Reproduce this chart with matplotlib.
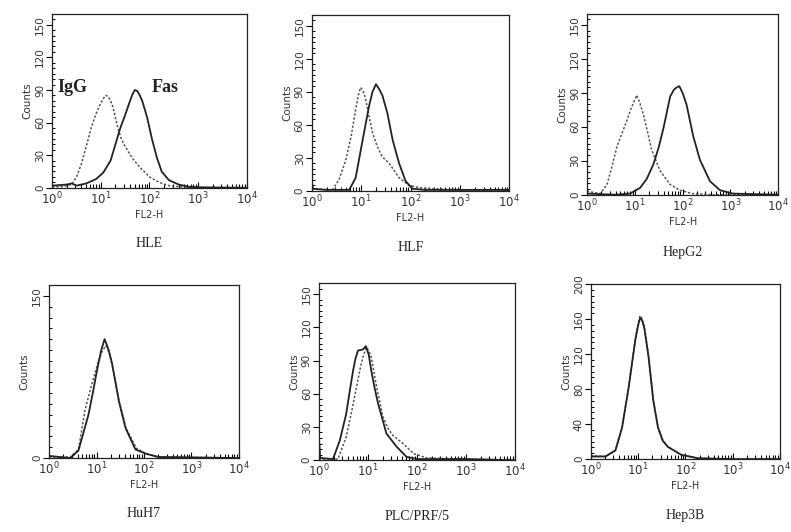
import matplotlib
matplotlib.use("Agg")
import matplotlib.pyplot as plt
from matplotlib.ticker import MultipleLocator, LogLocator, NullFormatter

# ── Data: log10(FL2-H) positions and counts ──

# HLE
hle_igg_x = [0.0, 0.2, 0.4, 0.5, 0.6, 0.7, 0.8, 0.9, 1.0, 1.05, 1.1, 1.15, 1.2, 1.25, 1.3, 1.35, 1.42, 1.5, 1.65, 1.8, 2.0, 2.2, 2.4, 2.6, 3.0, 4.0]
hle_igg_y = [1, 1, 3, 10, 22, 38, 55, 68, 78, 82, 85, 84, 80, 74, 64, 55, 45, 38, 27, 19, 10, 5, 2, 1, 0, 0]
hle_fas_x = [0.0, 0.3, 0.4, 0.5, 0.7, 0.9, 1.05, 1.2, 1.3, 1.4, 1.5, 1.6, 1.65, 1.7, 1.75, 1.8, 1.85, 1.95, 2.05, 2.15, 2.25, 2.4, 2.6, 2.8, 3.0, 4.0]
hle_fas_y = [2, 3, 4, 2, 4, 8, 14, 25, 40, 55, 67, 80, 86, 90, 89, 85, 80, 65, 45, 28, 15, 7, 3, 1, 0.5, 0]

# HLF
hlf_igg_x = [0.0, 0.42, 0.55, 0.69, 0.8, 0.89, 0.95, 0.99, 1.04, 1.09, 1.16, 1.23, 1.33, 1.43, 1.57, 1.77, 1.97, 2.18, 2.5, 3.0, 4.0]
hlf_igg_y = [2, 1, 10, 28, 50, 74, 88, 94, 91, 84, 68, 53, 40, 31, 25, 12, 5, 3, 2, 1, 0]
hlf_fas_x = [0.0, 0.03, 0.3, 0.76, 0.89, 1.03, 1.16, 1.23, 1.3, 1.36, 1.43, 1.53, 1.64, 1.77, 1.9, 2.04, 2.3, 3.0, 4.0]
hlf_fas_y = [9, 2, 1, 1, 12, 46, 77, 90, 97, 93, 87, 71, 46, 25, 9, 2, 1, 1, 1]

# HepG2
hepg2_igg_x = [0.0, 0.28, 0.42, 0.53, 0.63, 0.73, 0.83, 0.92, 1.0, 1.04, 1.1, 1.18, 1.27, 1.35, 1.53, 1.74, 1.94, 2.2, 2.6, 4.0]
hepg2_igg_y = [3, 1, 9, 26, 43, 54, 65, 76, 84, 88, 82, 71, 55, 40, 21, 9, 4, 1, 0, 0]
hepg2_fas_x = [0.0, 0.6, 0.9, 1.11, 1.25, 1.39, 1.5, 1.6, 1.68, 1.74, 1.82, 1.88, 1.93, 2.0, 2.08, 2.15, 2.22, 2.36, 2.57, 2.78, 3.05, 4.0]
hepg2_fas_y = [1, 0, 1, 6, 14, 27, 42, 59, 75, 87, 93, 95, 96, 90, 80, 66, 52, 31, 12, 4, 1, 0]

# HuH7
huh7_igg_x = [0.0, 0.45, 0.62, 0.76, 0.9, 1.03, 1.12, 1.2, 1.27, 1.34, 1.48, 1.62, 1.84, 2.05, 2.3, 4.0]
huh7_igg_y = [1, 1, 8, 45, 68, 88, 99, 104, 97, 84, 52, 28, 9, 4, 1, 0]
huh7_fas_x = [0.0, 0.45, 0.62, 0.83, 0.93, 1.01, 1.1, 1.17, 1.25, 1.33, 1.47, 1.61, 1.82, 2.04, 2.3, 4.0]
huh7_fas_y = [2, 0, 7, 40, 62, 81, 100, 110, 101, 87, 53, 28, 8, 4, 1, 0]

# PLC/PRF/5
plc_igg_x = [0.0, 0.39, 0.56, 0.67, 0.77, 0.85, 0.9, 0.97, 1.02, 1.07, 1.18, 1.31, 1.42, 1.52, 1.72, 1.93, 2.2, 3.0, 4.0]
plc_igg_y = [1, 1, 21, 44, 66, 84, 93, 102, 99, 93, 66, 39, 28, 22, 15, 6, 2, 1, 0]
plc_fas_x = [0.0, 0.03, 0.29, 0.43, 0.56, 0.63, 0.7, 0.75, 0.8, 0.9, 0.96, 1.02, 1.07, 1.14, 1.21, 1.38, 1.59, 1.79, 2.0, 3.0, 4.0]
plc_fas_y = [22, 2, 1, 18, 42, 62, 81, 92, 99, 100, 103, 95, 81, 65, 51, 24, 12, 3, 1, 1, 0]

# Hep3B
hep3b_igg_x = [0.0, 0.31, 0.52, 0.66, 0.8, 0.88, 0.94, 1.0, 1.04, 1.08, 1.13, 1.22, 1.32, 1.42, 1.52, 1.63, 1.91, 2.26, 3.0, 4.0]
hep3b_igg_y = [4, 3, 10, 37, 83, 114, 137, 155, 164, 161, 152, 118, 68, 37, 22, 14, 5, 1, 0, 0]
hep3b_fas_x = [0.0, 0.31, 0.52, 0.66, 0.8, 0.88, 0.94, 1.0, 1.04, 1.08, 1.13, 1.22, 1.32, 1.42, 1.52, 1.63, 1.91, 2.26, 3.0, 4.0]
hep3b_fas_y = [3, 3, 10, 36, 82, 113, 136, 153, 161, 159, 150, 117, 67, 36, 21, 14, 5, 1, 0, 0]

cell_lines = ["HLE", "HLF", "HepG2", "HuH7", "PLC/PRF/5", "Hep3B"]
igg_x = [hle_igg_x, hlf_igg_x, hepg2_igg_x, huh7_igg_x, plc_igg_x, hep3b_igg_x]
igg_y = [hle_igg_y, hlf_igg_y, hepg2_igg_y, huh7_igg_y, plc_igg_y, hep3b_igg_y]
fas_x = [hle_fas_x, hlf_fas_x, hepg2_fas_x, huh7_fas_x, plc_fas_x, hep3b_fas_x]
fas_y = [hle_fas_y, hlf_fas_y, hepg2_fas_y, huh7_fas_y, plc_fas_y, hep3b_fas_y]

y_ticks = [[0, 30, 60, 90, 120, 150], [0, 30, 60, 90, 120, 150], [0, 30, 60, 90, 120, 150],
           [0, 150], [0, 30, 60, 90, 120, 150], [0, 40, 80, 120, 160, 200]]
y_max = [160, 160, 160, 160, 160, 200]
x_ticks = [1, 10, 100, 1000, 10000]
x_tick_labels = [r"$10^0$", r"$10^1$", r"$10^2$", r"$10^3$", r"$10^4$"]

# axes rectangles (figure fractions) – layout only
rects = [
    [0.066, 0.647, 0.246, 0.327],
    [0.394, 0.641, 0.250, 0.331],
    [0.742, 0.634, 0.242, 0.340],
    [0.062, 0.139, 0.240, 0.325],
    [0.403, 0.135, 0.248, 0.333],
    [0.747, 0.137, 0.239, 0.329],
]

fig = plt.figure(figsize=(7.91, 5.32), dpi=100)
fig.patch.set_facecolor("white")

for i, name in enumerate(cell_lines):
    ax = fig.add_axes(rects[i])
    ix = [10 ** v for v in igg_x[i]]
    fx = [10 ** v for v in fas_x[i]]
    ax.plot(ix, igg_y[i], color="#555555", lw=1.1, ls=(0, (1.5, 1.2)))
    ax.plot(fx, fas_y[i], color="#222222", lw=1.3)

    ax.set_xscale("log")
    ax.set_xlim(1, 10000)
    ax.set_ylim(0, y_max[i])
    ax.set_xticks(x_ticks)
    ax.set_xticklabels(x_tick_labels, fontsize=8.5, color="#333333")
    ax.xaxis.set_minor_locator(LogLocator(base=10, subs=range(2, 10), numticks=20))
    ax.xaxis.set_minor_formatter(NullFormatter())
    ax.set_yticks(y_ticks[i])
    ax.set_yticklabels([str(t) for t in y_ticks[i]], fontsize=7.5, rotation=90,
                       va="center", color="#333333")
    step = y_ticks[i][1] - y_ticks[i][0]
    ax.yaxis.set_minor_locator(MultipleLocator(step / 6 if len(y_ticks[i]) > 2 else 10))
    ax.tick_params(axis="x", which="both", direction="in", length=3, width=0.8, pad=2)
    ax.tick_params(axis="x", which="major", length=4)
    ax.tick_params(axis="y", which="major", direction="out", length=4, width=0.8, pad=1)
    ax.tick_params(axis="y", which="minor", direction="in", length=2, width=0.7)
    for s in ax.spines.values():
        s.set_linewidth(0.9)
        s.set_color("#222222")

    ax.set_ylabel("Counts", fontsize=7.5, color="#333333", labelpad=2)
    ax.set_xlabel("FL2-H", fontsize=7, color="#333333", labelpad=2)
    ax.text(0.5, -0.32, name, transform=ax.transAxes, ha="center", va="center",
            fontsize=10, family="Liberation Serif", color="#222222")

    if i == 0:
        ax.text(10 ** 0.1, 92, "IgG", fontsize=13, fontweight="bold",
                family="Liberation Serif", va="center", color="#222222")
        ax.text(10 ** 2.05, 92, "Fas", fontsize=13, fontweight="bold",
                family="Liberation Serif", va="center", color="#222222")

fig.savefig("out.png", dpi=100, facecolor="white")
